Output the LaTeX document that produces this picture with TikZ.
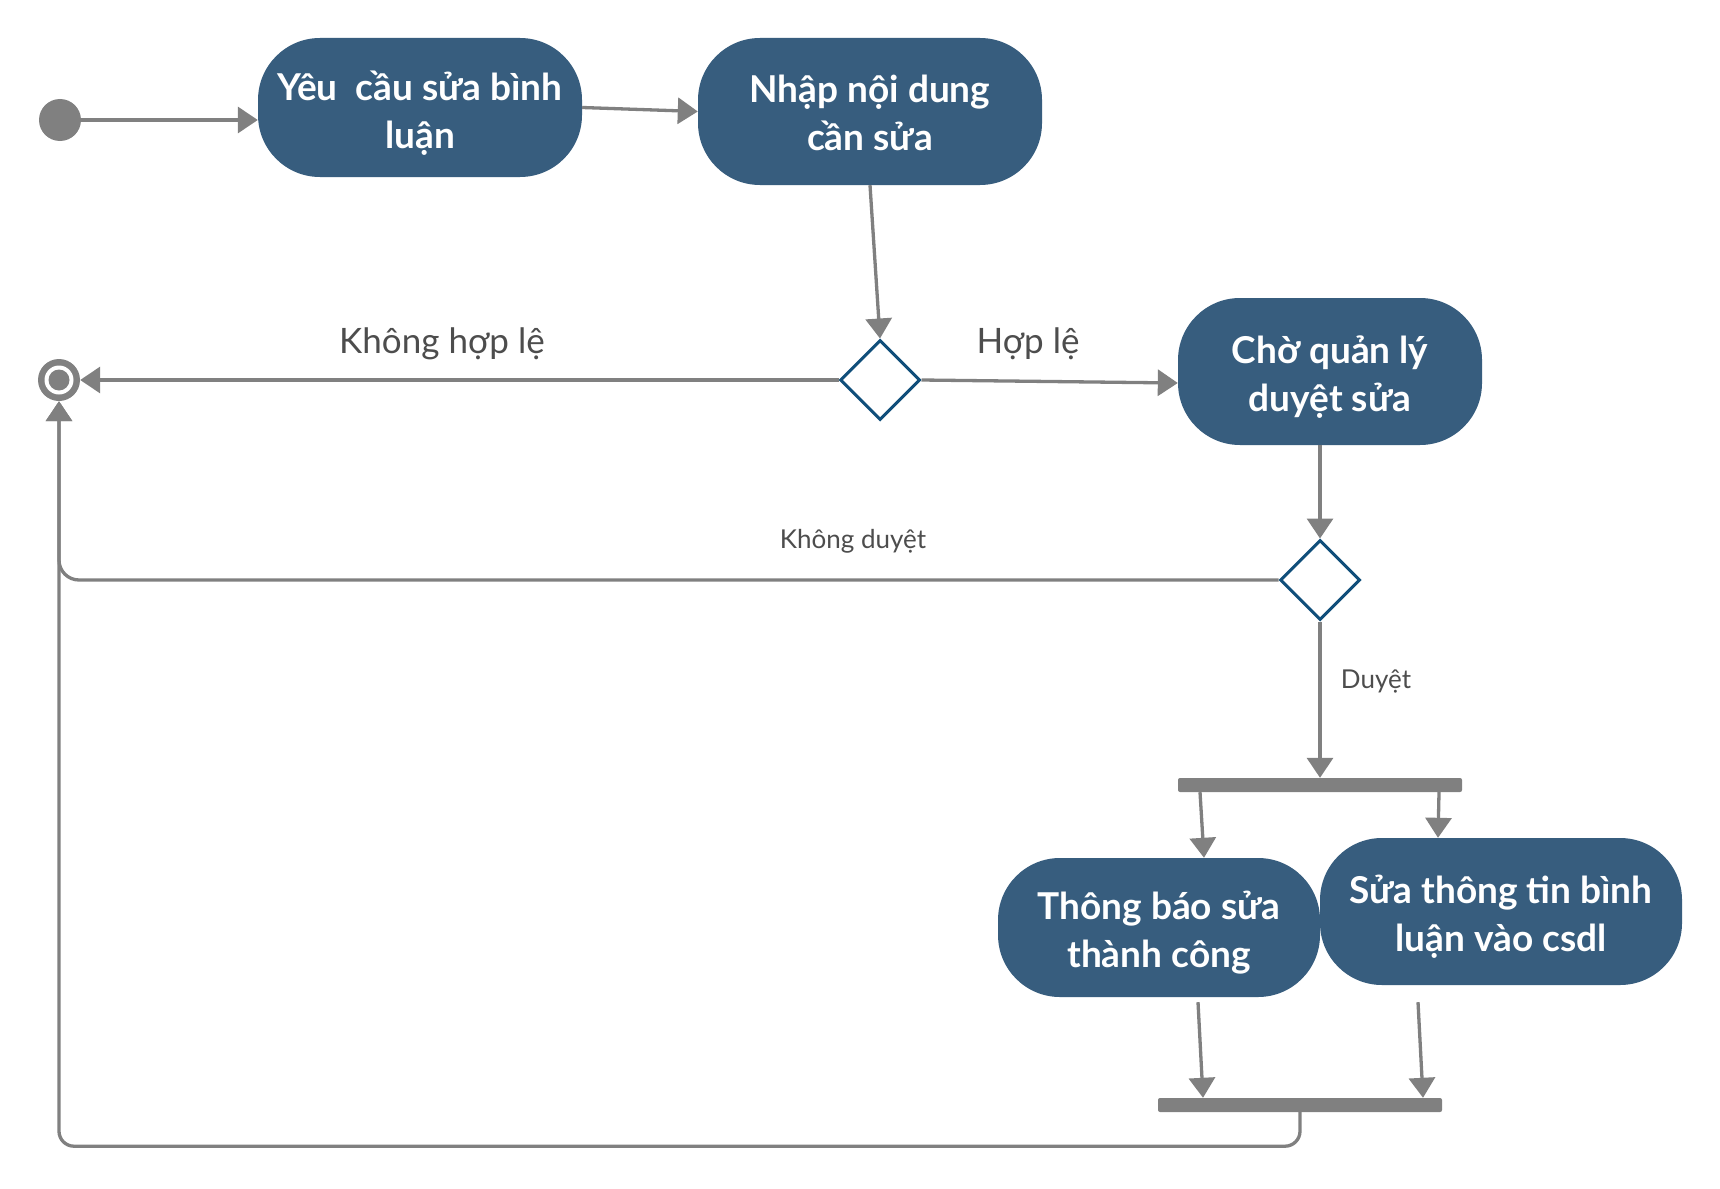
\documentclass[tikz,border=0pt]{standalone}
\usepackage{fontspec}
\setmainfont{Lato}
\usetikzlibrary{arrows.meta,shapes.geometric}
\definecolor{boxblue}{RGB}{55,93,126}
\definecolor{dblue}{RGB}{16,78,122}
\definecolor{lgray}{RGB}{128,128,128}
\definecolor{tgray}{RGB}{77,77,77}
\begin{document}
\begin{tikzpicture}[x=1pt,y=-1pt,
  act/.style={rectangle, rounded corners=62pt, fill=boxblue, inner sep=0pt},
  acttext/.style={text=white, font=\fontsize{37}{48}\selectfont\bfseries,
    align=center, inner sep=0pt},
  dec/.style={diamond, draw=dblue, line width=3pt, fill=white,
    minimum width=80pt, minimum height=80pt, inner sep=0pt},
  conn/.style={draw=lgray, line width=3.3pt, -{Triangle[length=20pt,width=26pt]}},
  bar/.style={rectangle, fill=lgray, rounded corners=2pt, inner sep=0pt},
  dot/.style={circle, fill=lgray, minimum size=42pt, inner sep=0pt},
  lbl/.style={text=tgray, inner sep=0pt, anchor=base},
  biglbl/.style={lbl, font=\fontsize{35}{42}\selectfont},
  smalllbl/.style={lbl, font=\fontsize{26}{31}\selectfont}
]
\useasboundingbox (0,0) rectangle (1720,1188);
\fill[white] (0,0) rectangle (1720,1188);

% nodes
\node[dot] (start) at (60,120) {};
\node[dot] (end) at (59,380) {};
\fill[white] (end.center) circle (14.5);
\fill[lgray] (end.center) circle (10.5);

\node[act, minimum width=324pt, minimum height=139pt] (b1) at (420,107.5) {};
\node[acttext] (b1t) at ([yshift=-5.5pt]b1.center) {Yêu\ \ cầu sửa bình\\luận};
\node[act, minimum width=344pt, minimum height=147pt] (b2) at (870,111.5) {};
\node[acttext] (b2t) at ([yshift=-1pt]b2.center) {Nhập nội dung\\cần sửa};
\node[dec] (d1) at (880,380) {};
\node[act, minimum width=304pt, minimum height=147pt] (b3) at (1330,371.5) {};
\node[acttext] (b3t) at ([yshift=-5.5pt]b3.center) {Chờ quản lý\\duyệt sửa};
\node[dec] (d2) at (1320,580) {};
\node[bar, minimum width=284pt, minimum height=14pt] (fork) at (1320,785) {};
\node[act, minimum width=322pt, minimum height=139pt] (b4) at (1159,927.5) {};
\node[acttext] (b4t) at ([yshift=-5.5pt]b4.center) {Thông báo sửa\\thành công};
\node[act, minimum width=362pt, minimum height=147pt] (b5) at (1501,911.5) {};
\node[acttext] (b5t) at ([yshift=-5pt]b5.center) {Sửa thông tin bình\\luận vào csdl};
\node[bar, minimum width=284pt, minimum height=14pt] (join) at (1300,1105) {};

% labels
\node[biglbl] (l1) at (442,353) {Không hợp lệ};
\node[biglbl] (l2) at (1028,353) {Hợp lệ};
\node[smalllbl] (l3) at (853,548) {Không duyệt};
\node[smalllbl] (l4) at (1376,688) {Duyệt};

% connectors
\draw[conn] (start) -- (b1.west |- start);
\draw[conn] (b1.east) -- (b2.west);
\draw[conn] (b2.south) -- (d1.north);
\draw[conn] (d1.west) -- (end.east);
\draw[conn] (d1.east) -- ([yshift=-11.5pt]b3.west);
\draw[conn] (d2.north |- b3.south) -- (d2.north);
\draw[conn, rounded corners=20pt] (d2.west) -| (end.south);
\draw[conn] (d2.south) -- (d2.south |- fork.north);
\draw[conn] ([xshift=-120pt]fork.south) -- ([xshift=45pt]b4.north);
\draw[conn] ([xshift=119pt]fork.south) -- ([xshift=-63pt]b5.north);
\draw[conn] ([xshift=39pt,yshift=-5pt]b4.south) -- ([xshift=-97pt]join.north);
\draw[conn] ([xshift=-83pt,yshift=-17pt]b5.south) -- ([xshift=123pt]join.north);
\draw[conn, rounded corners=15pt] (join.south) -- ++(0,34) -| (end.south);
\end{tikzpicture}
\end{document}
